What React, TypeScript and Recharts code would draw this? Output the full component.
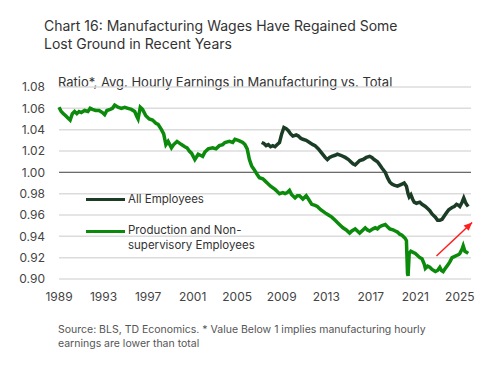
import React from 'react'
import { LineChart, Line, XAxis, YAxis, CartesianGrid, ReferenceLine } from 'recharts'

// Production and non-supervisory employees ratio
const prodYears = [
  1989.0, 1989.2, 1989.4, 1989.6, 1989.8, 1990.0, 1990.2, 1990.4, 1990.6, 1990.8,
  1991.0, 1991.3, 1991.6, 1991.8, 1992.0, 1992.3, 1992.6, 1992.9, 1993.1, 1993.3,
  1993.6, 1993.8, 1994.0, 1994.3, 1994.6, 1994.9, 1995.2, 1995.5, 1995.8, 1996.0,
  1996.1, 1996.3, 1996.5, 1996.8, 1997.1, 1997.4, 1997.7, 1997.9, 1998.2, 1998.4,
  1998.6, 1998.8, 1999.1, 1999.3, 1999.6, 2000.0, 2000.3, 2000.5, 2000.7, 2000.9,
  2001.2, 2001.5, 2001.7, 2001.9, 2002.1, 2002.4, 2002.8, 2003.1, 2003.4, 2003.7,
  2003.9, 2004.3, 2004.6, 2004.8, 2005.1, 2005.3, 2005.5, 2005.7, 2005.9, 2006.1,
  2006.3, 2006.5, 2006.8, 2007.0, 2007.3, 2007.5, 2007.7, 2008.0, 2008.4, 2008.6,
  2008.8, 2009.1, 2009.3, 2009.5, 2009.7, 2009.9, 2010.2, 2010.4, 2010.6, 2010.9,
  2011.2, 2011.4, 2011.7, 2012.0, 2012.2, 2012.5, 2012.9, 2013.2, 2013.5, 2013.8,
  2014.0, 2014.3, 2014.5, 2014.8, 2015.1, 2015.3, 2015.6, 2015.8, 2016.0, 2016.3,
  2016.5, 2016.7, 2016.9, 2017.2, 2017.4, 2017.6, 2017.8, 2018.0, 2018.3, 2018.5,
  2018.7, 2019.0, 2019.2, 2019.4, 2019.6, 2019.8, 2020.1, 2020.2, 2020.3, 2020.35,
  2020.45, 2020.6, 2020.8, 2021.0, 2021.2, 2021.4, 2021.6, 2021.8, 2021.9, 2022.1,
  2022.3, 2022.5, 2022.8, 2023.0, 2023.2, 2023.35, 2023.5, 2023.7, 2023.9, 2024.1,
  2024.3, 2024.5, 2024.7, 2024.9, 2025.0, 2025.2, 2025.3, 2025.45, 2025.6, 2025.75,
]
const prodValues = [
  1.061, 1.057, 1.055, 1.053, 1.051, 1.049, 1.055, 1.057, 1.055, 1.057,
  1.056, 1.058, 1.057, 1.060, 1.059, 1.058, 1.058, 1.056, 1.054, 1.058,
  1.059, 1.060, 1.063, 1.061, 1.060, 1.061, 1.060, 1.059, 1.057, 1.052,
  1.050, 1.061, 1.059, 1.053, 1.050, 1.049, 1.046, 1.045, 1.040, 1.036,
  1.026, 1.029, 1.023, 1.026, 1.029, 1.026, 1.024, 1.023, 1.020, 1.018,
  1.012, 1.017, 1.016, 1.015, 1.019, 1.022, 1.023, 1.022, 1.025, 1.026,
  1.028, 1.029, 1.028, 1.031, 1.030, 1.029, 1.028, 1.026, 1.022, 1.012,
  1.006, 1.003, 0.998, 0.995, 0.994, 0.992, 0.990, 0.987, 0.984, 0.982,
  0.980, 0.981, 0.980, 0.981, 0.983, 0.979, 0.976, 0.978, 0.978, 0.975,
  0.978, 0.975, 0.970, 0.969, 0.968, 0.965, 0.962, 0.960, 0.958, 0.955,
  0.953, 0.950, 0.948, 0.946, 0.943, 0.945, 0.947, 0.945, 0.943, 0.946,
  0.948, 0.946, 0.945, 0.947, 0.948, 0.947, 0.949, 0.950, 0.951, 0.949,
  0.947, 0.946, 0.945, 0.944, 0.942, 0.941, 0.938, 0.936, 0.905, 0.903,
  0.924, 0.926, 0.925, 0.924, 0.922, 0.920, 0.919, 0.914, 0.910, 0.912,
  0.911, 0.909, 0.907, 0.908, 0.911, 0.908, 0.907, 0.910, 0.913, 0.916,
  0.920, 0.921, 0.922, 0.923, 0.924, 0.928, 0.931, 0.926, 0.925, 0.924,
]

// All employees ratio
const allYears = [
  2007.2, 2007.4, 2007.6, 2007.8, 2008.0, 2008.2, 2008.4, 2008.6, 2008.8, 2009.0,
  2009.2, 2009.4, 2009.6, 2009.8, 2010.0, 2010.3, 2010.5, 2010.7, 2010.9, 2011.2,
  2011.5, 2011.8, 2012.0, 2012.3, 2012.6, 2012.9, 2013.1, 2013.3, 2013.5, 2013.8,
  2014.0, 2014.3, 2014.7, 2015.0, 2015.2, 2015.4, 2015.6, 2015.8, 2016.0, 2016.3,
  2016.6, 2016.9, 2017.1, 2017.3, 2017.6, 2017.8, 2018.0, 2018.3, 2018.5, 2018.7,
  2018.9, 2019.1, 2019.4, 2019.6, 2019.8, 2020.0, 2020.2, 2020.35, 2020.45, 2020.6,
  2020.75, 2020.9, 2021.1, 2021.4, 2021.6, 2021.9, 2022.1, 2022.3, 2022.5, 2022.8,
  2023.0, 2023.2, 2023.4, 2023.6, 2023.8, 2024.0, 2024.3, 2024.5, 2024.7, 2024.9,
  2025.0, 2025.2, 2025.35, 2025.5, 2025.6, 2025.75,
]
const allValues = [
  1.028, 1.027, 1.025, 1.026, 1.024, 1.025, 1.024, 1.026, 1.028, 1.036,
  1.042, 1.041, 1.039, 1.036, 1.034, 1.035, 1.034, 1.032, 1.031, 1.030,
  1.028, 1.026, 1.025, 1.022, 1.018, 1.014, 1.012, 1.014, 1.015, 1.016,
  1.017, 1.016, 1.014, 1.012, 1.010, 1.008, 1.007, 1.009, 1.011, 1.012,
  1.014, 1.015, 1.014, 1.012, 1.010, 1.007, 1.004, 1.000, 0.995, 0.991,
  0.989, 0.988, 0.987, 0.988, 0.989, 0.990, 0.987, 0.980, 0.977, 0.979,
  0.975, 0.972, 0.971, 0.972, 0.970, 0.968, 0.966, 0.964, 0.961, 0.958,
  0.955, 0.955, 0.956, 0.959, 0.962, 0.965, 0.967, 0.968, 0.970, 0.969,
  0.968, 0.972, 0.976, 0.972, 0.970, 0.968,
]

const xTicks = [1989, 1993, 1997, 2001, 2005, 2009, 2013, 2017, 2021, 2025]
const yTicks = [0.9, 0.92, 0.94, 0.96, 0.98, 1.0, 1.02, 1.04, 1.06, 1.08]

// arrow annotation, in data units
const arrowFrom = { x: 2022.9, y: 0.9215 }
const arrowTo = { x: 2026.1, y: 0.953 }

const prodData = prodYears.map((year, i) => ({ year, value: prodValues[i] }))
const allData = allYears.map((year, i) => ({ year, value: allValues[i] }))

const FONT = 'Inter, "Open Sans", sans-serif'
const DARK = '#1b3d25'
const GREEN = '#0b8a0b'

const Arrow = (props: any) => {
  const { x1, y1, x2, y2 } = props
  if (x1 == null) return null
  const ang = Math.atan2(y2 - y1, x2 - x1)
  const len = 9
  const spread = 0.42
  const p1 = [x2 - len * Math.cos(ang - spread), y2 - len * Math.sin(ang - spread)]
  const p2 = [x2 - len * Math.cos(ang + spread), y2 - len * Math.sin(ang + spread)]
  return (
    <g>
      <line x1={x1} y1={y1} x2={x2} y2={y2} stroke='#ff1e1e' strokeWidth={1.5} />
      <polygon points={`${x2},${y2} ${p1[0]},${p1[1]} ${p2[0]},${p2[1]}`} fill='#ff1e1e' />
    </g>
  )
}

const LegendBox = () => (
  <div style={{ position: 'absolute', left: 86, top: 191, fontSize: 11.5, color: '#333', lineHeight: '15px' }}>
    <div style={{ display: 'flex', alignItems: 'center', height: 16 }}>
      <span style={{ display: 'inline-block', width: 39, height: 3, background: DARK, marginRight: 3 }} />
      <span>All Employees</span>
    </div>
    <div style={{ display: 'flex', alignItems: 'flex-start', marginTop: 16 }}>
      <span style={{ display: 'inline-block', width: 39, height: 3, background: GREEN, marginRight: 3, marginTop: 7 }} />
      <span>Production and Non-<br />supervisory Employees</span>
    </div>
  </div>
)

const App = () => {
  return (
    <div style={{ position: 'absolute', left: 0, top: 0, width: 484, height: 366, background: '#fff', fontFamily: FONT }}>
      <div style={{ position: 'absolute', left: 44, top: 17, fontSize: 14, lineHeight: '18px', color: '#333' }}>
        Chart 16: Manufacturing Wages Have Regained Some<br />Lost Ground in Recent Years
      </div>
      <div style={{ position: 'absolute', left: 58, top: 74, fontSize: 13, color: '#333' }}>
        Ratio*, Avg. Hourly Earnings in Manufacturing vs. Total
      </div>
      <LineChart width={484} height={366} margin={{ top: 87, right: 13, bottom: 57, left: 0 }}>
        <CartesianGrid vertical={false} stroke='#dcdcdc' strokeWidth={1.5} />
        <XAxis
          type='number'
          dataKey='year'
          domain={[1989, 2026]}
          ticks={xTicks}
          interval={0}
          allowDuplicatedCategory={false}
          axisLine={false}
          tickLine={false}
          tickSize={0}
          tickMargin={13}
          height={30}
          tick={{ fontSize: 12, fill: '#444', fontFamily: FONT }}
        />
        <YAxis
          type='number'
          domain={[0.9, 1.08]}
          ticks={yTicks}
          interval={0}
          width={59}
          axisLine={false}
          tickLine={false}
          tickSize={0}
          tickMargin={14}
          tickFormatter={(v: number) => v.toFixed(2)}
          tick={{ fontSize: 12, fill: '#444', fontFamily: FONT }}
        />
        <ReferenceLine y={1} stroke='#555' strokeWidth={1} />
        <Line data={allData} dataKey='value' name='All Employees' stroke={DARK} strokeWidth={3.5} dot={false} isAnimationActive={false} />
        <Line data={prodData} dataKey='value' name='Production and Non-supervisory Employees' stroke={GREEN} strokeWidth={3.5} dot={false} isAnimationActive={false} />
        <ReferenceLine
          segment={[arrowFrom, arrowTo]}
          ifOverflow='visible'
          shape={(p: any) => <Arrow {...p} />}
        />
      </LineChart>
      <LegendBox />
      <div style={{ position: 'absolute', left: 58, top: 323, fontSize: 10.5, lineHeight: '14px', color: '#555' }}>
        Source: BLS, TD Economics. * Value Below 1 implies manufacturing hourly<br />earnings are lower than total
      </div>
    </div>
  )
}

export default App
